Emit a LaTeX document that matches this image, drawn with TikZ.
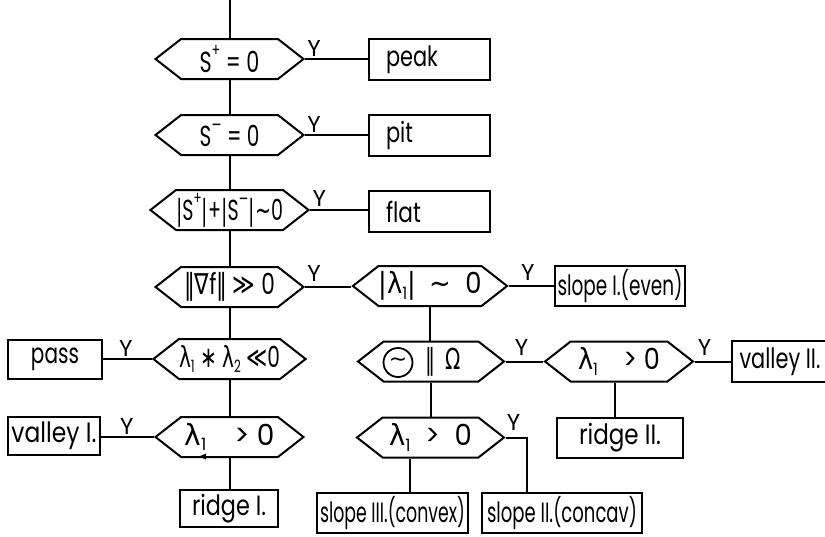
\documentclass[tikz,border=0pt]{standalone}
\usepackage{fontspec}
\usepackage{graphicx}
\setmainfont{Poppins}
\newfontfamily\symfont{DejaVu Sans}
\usetikzlibrary{shapes.symbols}
% text squeezed or stretched to a given width, height kept
\newcommand\fw[2]{\resizebox{#1pt}{\height}{#2}}
\newcommand\sy[1]{{\symfont #1}}
\newcommand\lm{{\symfont λ}}
\newcommand\lo[1]{\raisebox{-0.35ex}{\fontsize{17}{17}\selectfont #1}}
\newcommand\hi[1]{\raisebox{1.0ex}{\fontsize{18}{18}\selectfont #1}}
\begin{document}
\begin{tikzpicture}[x=1pt,y=-1pt,line width=2pt,
  hexa/.style={draw, shape=signal, signal to=east and west,
    signal pointer angle=76, minimum width=148pt, minimum height=40pt,
    inner sep=0pt, font=\fontsize{29}{30}\selectfont},
  res/.style={draw, rectangle, inner sep=0pt, font=\fontsize{28}{30}\selectfont},
  lres/.style={res, minimum height=41pt, text width=87pt, inner xsep=17pt, align=left},
  ylab/.style={font=\fontsize{23}{23}\selectfont, inner sep=0pt}]
\useasboundingbox (0,0) rectangle (825,536);

% main column of tests
\coordinate (top) at (229.5,0);
\node[hexa] (h1) at (229.5,59)  {\fw{60}{S\hi{+} = 0}};
\node[hexa] (h2) at (229.5,135) {\fw{60}{S\hi{\sy{−}} = 0}};
\node[hexa] (h3) at (229.5,210) {\fw{107}{\sy{|}S\hi{+}\sy{|}+\sy{|}S\hi{\sy{−}}\sy{|}\sy{∼}0}};
\node[hexa] (h4) at (229.5,287) {\fw{91}{\sy{‖∇}f\sy{‖} \sy{≫} 0}};
\node[hexa] (h5) at (229.5,359) {\fw{101}{\lm\lo{1} \sy{∗} \lm\lo{2} \sy{≪}0}};
\node[hexa] (h6) at (229.5,437) {\fw{90}{\lm\lo{1}\quad > 0}};

% branch tests
\node[hexa, minimum width=146pt] (g1) at (430,286)   {\fw{103}{\sy{|}\lm\lo{1}\sy{|} \ \sy{∼} \ 0}};
\node[hexa, minimum width=146pt] (g2) at (431,361.5) {};
\node[draw, circle, minimum size=29pt, inner sep=0pt, line width=1.8pt,
      font=\fontsize{22}{22}\selectfont] (tl) at (398,362.5) {\sy{∼}};
\node[font=\fontsize{29}{30}\selectfont, inner sep=0pt] (om) at (443,362) {\fw{36}{\sy{‖}\ \ \sy{Ω}}};
\node[hexa] (g3) at (619,361.5) {\fw{82}{\lm\lo{1}\quad > 0}};
\node[hexa, minimum width=147pt] (g4) at (430.5,437.5) {\fw{83}{\lm\lo{1}\ \ >\ \ 0}};

% results
\node[lres] (peak) at (429.5,59.5)  {\fw{52}{peak}};
\node[lres] (pit)  at (429.5,135.5) {\fw{27}{pit}};
\node[lres] (flat) at (429.5,211.5) {\fw{35}{flat}};
\node[res, minimum width=130pt, minimum height=40pt] (sl1) at (620,286) {\fw{125}{slope I.(even)}};
\node[res, minimum width=94pt, minimum height=39pt] (pass) at (55,359.5) {\fw{48}{pass}};
\node[res, minimum width=92pt, minimum height=38pt] (val1) at (54,436) {\fw{85}{valley I.}};
\node[res, minimum width=98pt, minimum height=37pt] (rid1) at (229,508.5) {\fw{74}{ridge I.}};
\node[res, minimum width=96pt, minimum height=41pt] (val2) at (780,361.5) {\fw{81}{valley II.}};
\node[res, minimum width=126pt, minimum height=40pt] (rid2) at (620,438) {\fw{82}{ridge II.}};
\node[res, minimum width=151pt, minimum height=40pt] (sl3) at (392.5,513) {\fw{145}{slope III.(convex)}};
\node[res, minimum width=160pt, minimum height=40pt] (sl2) at (562,513) {\fw{150}{slope II.(concav)}};

% vertical flow
\draw (top) -- (h1.north);
\draw (h1.south) -- (h2.north);
\draw (h2.south) -- (h3.north);
\draw (h3.south) -- (h4.north);
\draw (h4.south) -- (h5.north);
\draw (h5.south) -- (h6.north);
\draw (h6.south) -- (h6.south |- rid1.north);
\draw (g1.south) -- (g1.south |- g2.north);
\draw (g2.south) -- (g2.south |- g4.north);
\draw ([xshift=-4pt]g3.south) -- ([xshift=-4pt]g3.south |- rid2.north);
\draw ([xshift=-20.5pt]g4.south) -- ([xshift=-20.5pt]g4.south |- sl3.north);
\draw (g4.east) -| ([xshift=-35pt]sl2.north);

% yes branches
\draw (h1.east) -- (h1.east -| peak.west);
\draw (h2.east) -- (h2.east -| pit.west);
\draw (h3.east) -- (h3.east -| flat.west);
\draw (h4.east) -- (h4.east -| g1.west);
\draw (g1.east) -- (g1.east -| sl1.west);
\draw (h5.west) -- (h5.west -| pass.east);
\draw (h6.west) -- (h6.west -| val1.east);
\draw (g2.east) -- (g2.east -| g3.west);
\draw (g3.east) -- (g3.east -| val2.west);

% small mark on the lower edge of the last left test
\fill (199,456.5) -- (206,453.5) -- (206,459.5) -- cycle;

% Y labels
\node[ylab] (y1) at ([shift={(9,-11)}]h1.east) {Y};
\node[ylab] (y2) at ([shift={(9,-11)}]h2.east) {Y};
\node[ylab] (y3) at ([shift={(9,-12)}]h3.east) {Y};
\node[ylab] (y4) at ([shift={(9,-14)}]h4.east) {Y};
\node[ylab] (y5) at ([shift={(19,-14)}]g1.east) {Y};
\node[ylab] (y6) at ([shift={(-26,-11)}]h5.west) {Y};
\node[ylab] (y7) at ([shift={(-27,-11)}]h6.west) {Y};
\node[ylab] (y8) at ([shift={(16,-14)}]g2.east) {Y};
\node[ylab] (y9) at ([shift={(10,-14)}]g3.east) {Y};
\node[ylab] (y10) at ([shift={(8,-15)}]g4.east) {Y};
\end{tikzpicture}
\end{document}
